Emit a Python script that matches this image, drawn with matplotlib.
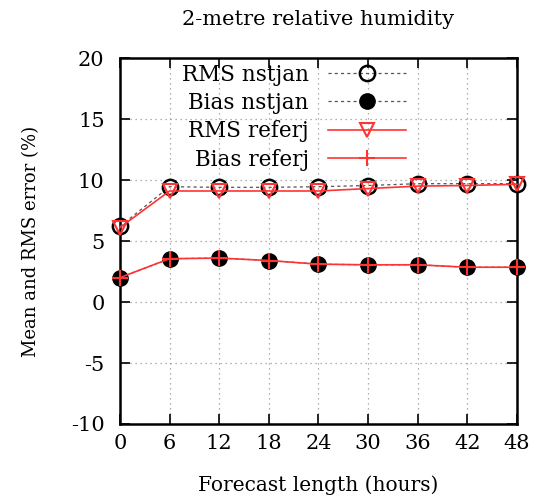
import matplotlib
matplotlib.use("Agg")
import matplotlib.pyplot as plt

hours = [0, 6, 12, 18, 24, 30, 36, 42, 48]
rms_nstjan = [6.2, 9.45, 9.4, 9.4, 9.45, 9.55, 9.7, 9.7, 9.7]
bias_nstjan = [2.0, 3.55, 3.6, 3.4, 3.1, 3.05, 3.05, 2.85, 2.85]
rms_referj = [6.1, 9.1, 9.1, 9.1, 9.1, 9.3, 9.5, 9.55, 9.65]
bias_referj = [2.0, 3.55, 3.6, 3.4, 3.1, 3.05, 3.05, 2.85, 2.85]
yticks = [-10, -5, 0, 5, 10, 15, 20]

plt.rcParams['font.family'] = ['DejaVu Serif']
plt.rcParams['axes.unicode_minus'] = False
fig = plt.figure(figsize=(5.33, 4.98), dpi=100)
ax = fig.add_axes([0.225, 0.1486, 0.745, 0.7349])

ax.plot(hours, rms_nstjan, color='#555555', ls=(0, (2.5, 2.5)), lw=0.9, marker='o', ms=11,
        mfc='none', mec='black', mew=1.8, label='RMS nstjan', clip_on=False, zorder=3)
ax.plot(hours, bias_nstjan, color='#555555', ls=(0, (2.5, 2.5)), lw=0.9, marker='o', ms=11,
        mfc='black', mec='black', label='Bias nstjan', clip_on=False, zorder=3)
ax.plot(hours, rms_referj, color='#ff3333', ls='-', lw=1.2, marker='v', ms=10,
        mfc='none', mec='#ff3333', mew=1.5, label='RMS referj', clip_on=False, zorder=4)
ax.plot(hours, bias_referj, color='#ff3333', ls='-', lw=1.2, marker='+', ms=11,
        mec='#ff3333', mew=1.5, label='Bias referj', clip_on=False, zorder=4)

ax.set_xlim(0, 48)
ax.set_ylim(-10, 20)
ax.set_xticks(hours)
ax.set_yticks(yticks)
ax.grid(True, color='#999999', ls=(0, (1, 3)), lw=0.9)
ax.tick_params(direction='in', length=7, width=1.2, top=True, right=True, labelsize=15)
ax.tick_params(axis='y', pad=11)
ax.tick_params(axis='x', pad=7)
for s in ax.spines.values():
    s.set_linewidth(1.8)

ax.set_title('2-metre relative humidity', fontsize=15, pad=24)
ax.set_xlabel('Forecast length (hours)', fontsize=14.5, labelpad=16)
ax.set_ylabel('Mean and RMS error (%)', fontsize=13, labelpad=22)

leg = ax.legend(loc='upper right', bbox_to_anchor=(0.72, 0.985), frameon=False, markerfirst=False,
                fontsize=15.5, handlelength=3.6, handletextpad=0.9, labelspacing=0.3,
                borderpad=0, borderaxespad=0)
for t in leg.get_texts():
    t.set_ha('right')

fig.savefig('out.png', dpi=100)
